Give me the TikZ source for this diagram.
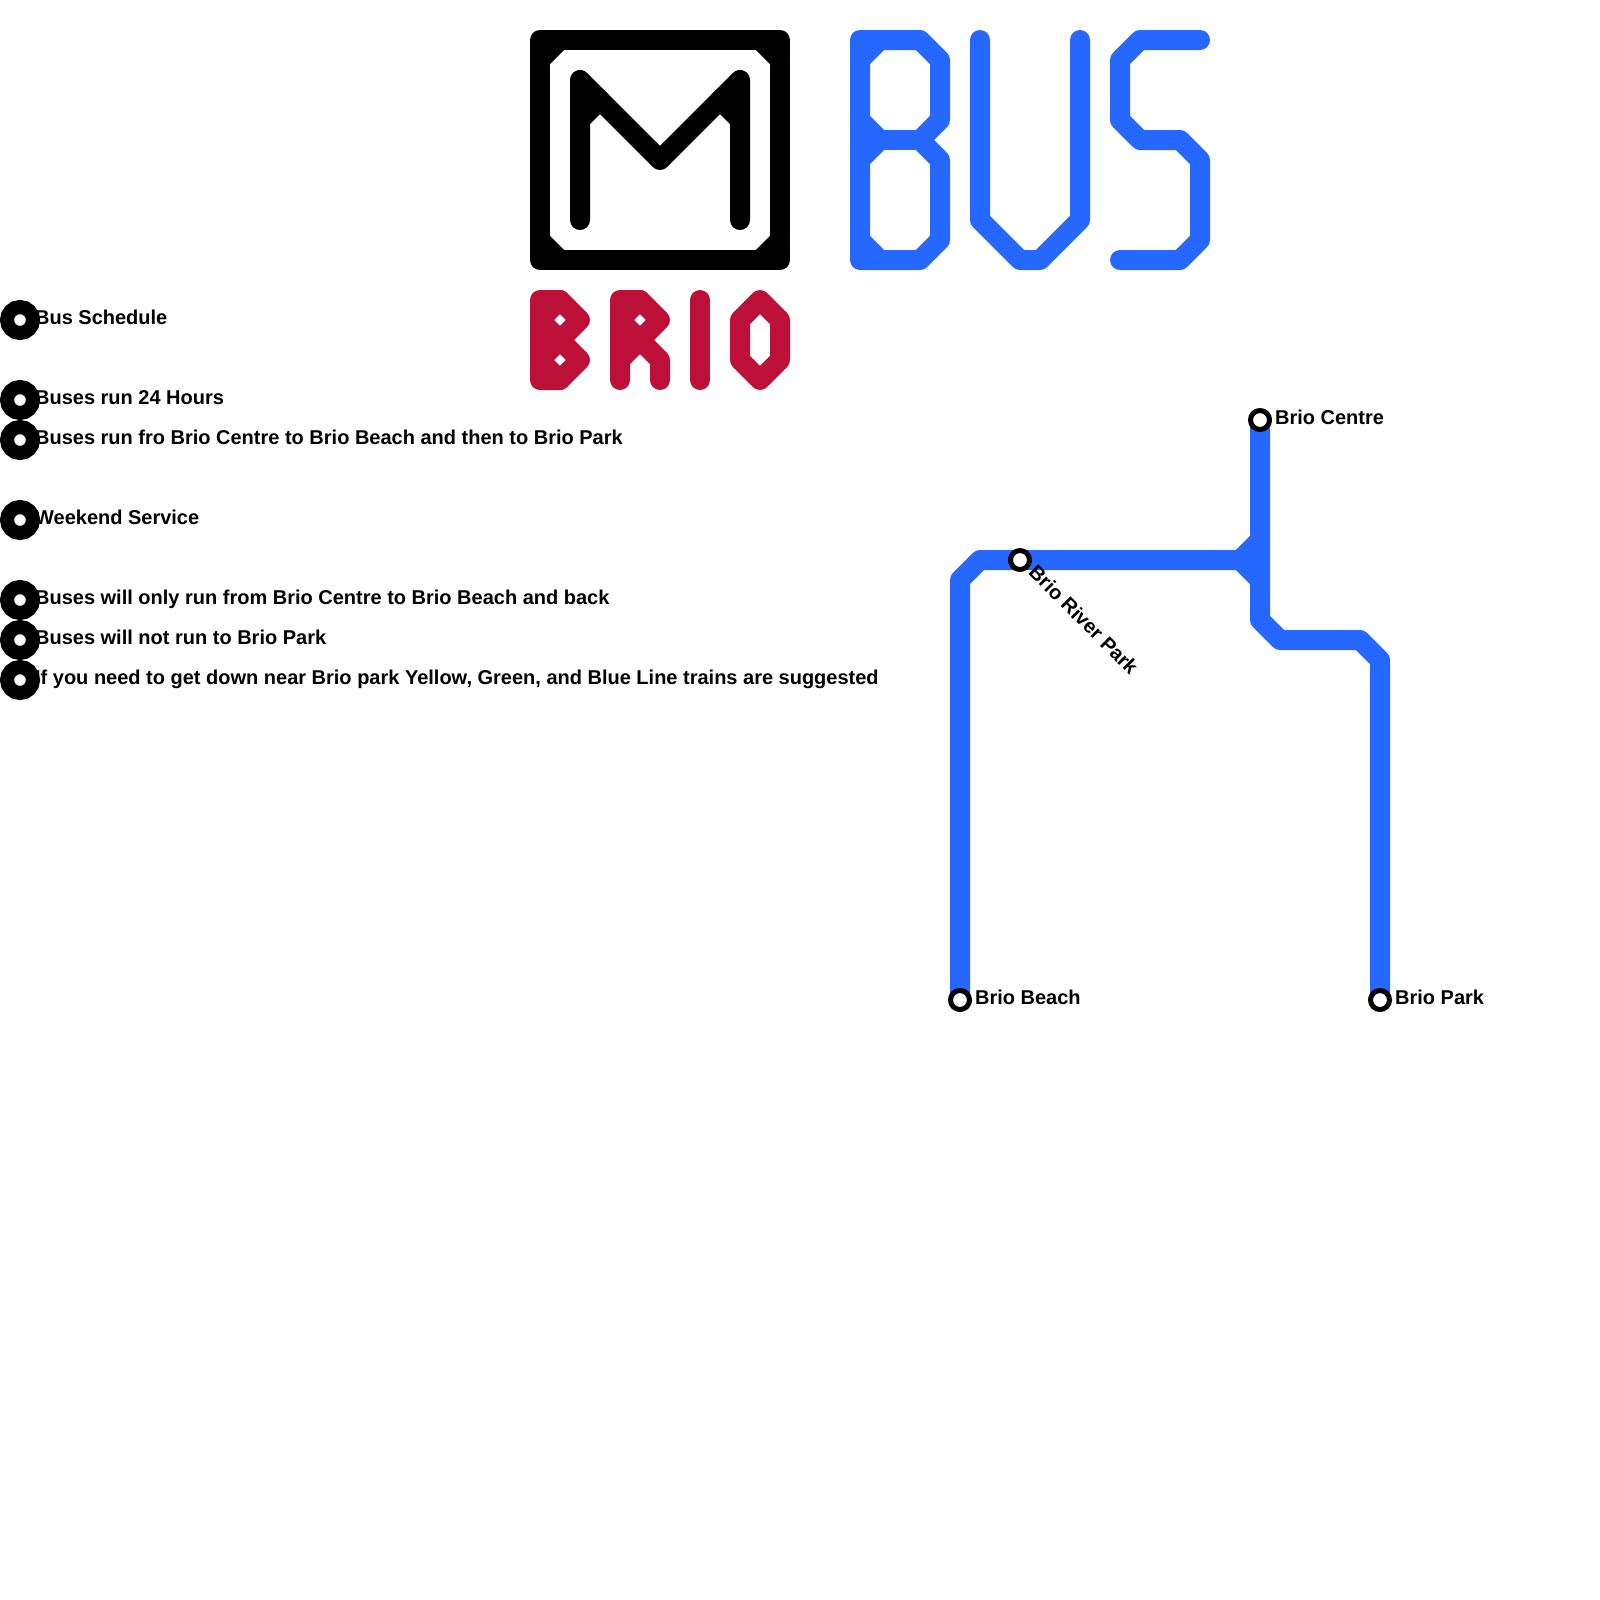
\documentclass[tikz,border=0pt]{standalone}
\usepackage{fontspec}
\setmainfont{Liberation Sans}
\usepackage{tikz}
\definecolor{busblue}{HTML}{2667FF}
\definecolor{briored}{HTML}{BD1038}
\tikzset{
    thick stroke/.style={line width=0.25cm, line cap=round, line join=round},
    stopname/.style={anchor=base west, inner sep=0pt, font=\bfseries\fontsize{7.11pt}{8.5pt}\selectfont},
    stop/.style={circle, draw=black, fill=white, inner sep=0pt, minimum size=0.2375cm, line width=0.0625cm},
    bullet/.style={circle, draw=black, fill=white, inner sep=0pt, minimum size=0.325cm, line width=0.175cm}
}

\begin{document}
\begin{tikzpicture}[x=0.25cm, y=-0.25cm]
        \useasboundingbox (0,0) rectangle (80,80);

        \draw[thick stroke, black] (27,2) rectangle (39,13);
        \draw[thick stroke, black] (27,3) -- (28,2);
        \draw[thick stroke, black] (38,2) -- (39,3);
        \draw[thick stroke, black] (27,12) -- (28,13);
        \draw[thick stroke, black] (38,13) -- (39,12);
        \draw[thick stroke, black] (29,11) -- (29,6) -- (30,5) -- (33,8) -- (36,5) -- (37,6) -- (37,11);
        \draw[thick stroke, black] (29,6) -- (29,4) -- (30,5);
        \draw[thick stroke, black] (37,6) -- (37,4) -- (36,5);

        \draw[thick stroke, briored] (27,15) -- (28,15) -- (29,16) -- (28,17) -- (29,18) -- (28,19) -- (27,19) -- cycle;
        \draw[thick stroke, briored] (27,16) -- (28,15);
        \draw[thick stroke, briored] (27,16) -- (28,17);
        \draw[thick stroke, briored] (27,17) -- (28,17);
        \draw[thick stroke, briored] (27,18) -- (28,17);
        \draw[thick stroke, briored] (27,18) -- (28,19);
        \draw[thick stroke, briored] (31,19) -- (31,15) -- (32,15) -- (33,16) -- (32,17) -- (33,18) -- (33,19);
        \draw[thick stroke, briored] (31,16) -- (32,15);
        \draw[thick stroke, briored] (31,16) -- (32,17);
        \draw[thick stroke, briored] (31,17) -- (32,17);
        \draw[thick stroke, briored] (31,18) -- (32,17);
        \draw[thick stroke, briored] (35,15) -- (35,19);
        \draw[thick stroke, briored] (38,15) -- (39,16) -- (39,18) -- (38,19) -- (37,18) -- (37,16) -- cycle;

        \draw[thick stroke, busblue] (43,2) -- (46,2) -- (47,3) -- (47,6) -- (46,7) -- (47,8) -- (47,12) -- (46,13) -- (43,13) -- cycle;
        \draw[thick stroke, busblue] (43,7) -- (46,7);
        \draw[thick stroke, busblue] (43,3) -- (44,2);
        \draw[thick stroke, busblue] (43,6) -- (44,7);
        \draw[thick stroke, busblue] (43,8) -- (44,7);
        \draw[thick stroke, busblue] (43,12) -- (44,13);
        \draw[thick stroke, busblue] (49,2) -- (49,11) -- (51,13) -- (52,13) -- (54,11) -- (54,2);
        \draw[thick stroke, busblue] (60,2) -- (57,2) -- (56,3) -- (56,6) -- (57,7) -- (59,7) -- (60,8) -- (60,12) -- (59,13) -- (56,13);

        \coordinate (centre) at (63,21);
        \coordinate (river) at (51,28);
        \coordinate (beach) at (48,50);
        \coordinate (park) at (69,50);
        \draw[thick stroke, busblue] (beach) -- (48,29) -- (49,28) -- (river) -- (62,28) -- (63,27);
        \draw[thick stroke, busblue] (62,28) -- (63,29);
        \draw[thick stroke, busblue] (centre) -- (63,31) -- (64,32) -- (68,32) -- (69,33) -- (park);

        \node (centre stop) at (centre) [stop] {};
        \node (river stop) at (river) [stop] {};
        \node (beach stop) at (beach) [stop] {};
        \node (park stop) at (park) [stop] {};
        \node (centre name) at (63.73,21.22) [stopname] {Brio Centre};
        \node (river name) at (51.36,28.66) [stopname, rotate=-45] {Brio River Park};
        \node (beach name) at (48.73,50.22) [stopname] {Brio Beach};
        \node (park name) at (69.73,50.22) [stopname] {Brio Park};

        \node (schedule text) at (1.73,16.22) [stopname] {Bus Schedule};
        \node (hours text) at (1.73,20.22) [stopname] {Buses run 24 Hours};
        \node (route text) at (1.73,22.22) [stopname] {Buses run fro Brio Centre to Brio Beach and then to Brio Park};
        \node (weekend text) at (1.73,26.22) [stopname] {Weekend Service};
        \node (only text) at (1.73,30.22) [stopname] {Buses will only run from Brio Centre to Brio Beach and back};
        \node (not text) at (1.73,32.22) [stopname] {Buses will not run to Brio Park};
        \node (trains text) at (1.73,34.22) [stopname] {If you need to get down near Brio park Yellow, Green, and Blue Line trains are suggested};
        \node (schedule bullet) at (1,16) [bullet] {};
        \node (hours bullet) at (1,20) [bullet] {};
        \node (route bullet) at (1,22) [bullet] {};
        \node (weekend bullet) at (1,26) [bullet] {};
        \node (only bullet) at (1,30) [bullet] {};
        \node (not bullet) at (1,32) [bullet] {};
        \node (trains bullet) at (1,34) [bullet] {};
    \end{tikzpicture}
\end{document}
